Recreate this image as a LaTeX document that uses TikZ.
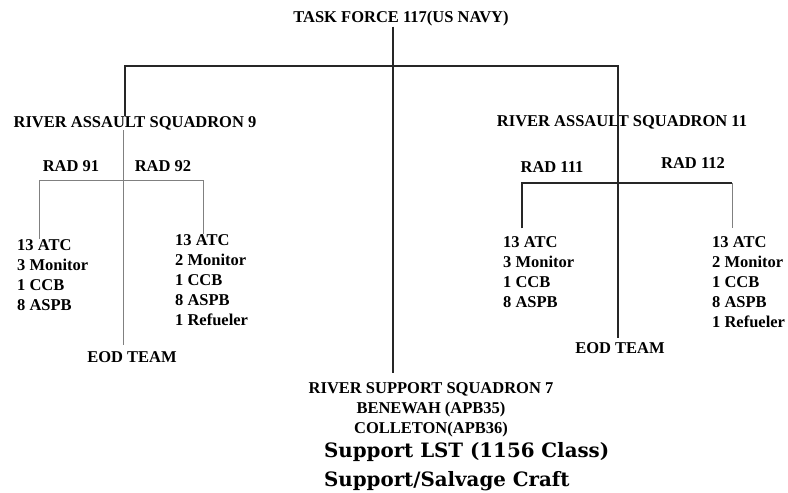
\documentclass[tikz,border=0pt]{standalone}
\usepackage{fontspec}
\setmainfont{Liberation Serif}
\newfontfamily\wideserif{DejaVu Serif}
\begin{document}
\begin{tikzpicture}[
                x=1pt, y=-1pt,
                lbl/.style={font=\fontsize{16.5}{20}\selectfont\bfseries, inner sep=0pt},
                boats/.style={lbl, align=left, anchor=west},
                tie/.style={line width=1.3pt, black!85},
                faint/.style={line width=1pt, black!50}]
            \useasboundingbox (0,0) rectangle (788,493);
            \node[lbl] (tf) at (401,19) {TASK FORCE 117(US NAVY)};
            \node[lbl] (ras9) at (135,123) {RIVER ASSAULT SQUADRON 9};
            \node[lbl] (ras11) at (622,122) {RIVER ASSAULT SQUADRON 11};
            \node[lbl] (rad91) at (71,166) {RAD 91};
            \node[lbl] (rad92) at (163,166) {RAD 92};
            \node[lbl] (rad111) at (552,167) {RAD 111};
            \node[lbl] (rad112) at (693,163) {RAD 112};
            \node[boats] (boats91) at (17,275) {13 ATC\\3 Monitor\\1 CCB\\8 ASPB};
            \node[boats] (boats92) at (175,280) {13 ATC\\2 Monitor\\1 CCB\\8 ASPB\\1 Refueler};
            \node[boats] (boats111) at (503,272) {13 ATC\\3 Monitor\\1 CCB\\8 ASPB};
            \node[boats] (boats112) at (712,282) {13 ATC\\2 Monitor\\1 CCB\\8 ASPB\\1 Refueler};
            \node[lbl] (eod9) at (132,357) {EOD TEAM};
            \node[lbl] (eod11) at (620,348) {EOD TEAM};
            \node[lbl, align=center] (rss7) at (431,410) {RIVER SUPPORT SQUADRON 7\\BENEWAH (APB35)\\COLLETON(APB36)};
            \node[inner sep=0pt, align=left, anchor=west,
                font=\wideserif\fontsize{19.8}{29}\selectfont\bfseries] (craft) at (324,467)
                {Support LST (1156 Class)\\Support/Salvage Craft};
            \coordinate (hub) at (393,66);
            \coordinate (busL) at (125,66);
            \coordinate (busR) at (618,66);
            \coordinate (j91) at (39,180);
            \coordinate (j92) at (203,180);
            \coordinate (j111) at (522,183);
            \coordinate (j112) at (732,183);
            \draw[tie] (tf.south -| hub) -- ([yshift=10pt]rss7.north -| hub);
            \draw[tie] (ras9.north -| busL) -- (busL) -- (busR) -- ([yshift=4pt]eod11.north -| busR);
            \draw[faint] ([xshift=-12pt]ras9.south) -- ([xshift=-9pt,yshift=6pt]eod9.north);
            \draw[faint] (boats91.north -| j91) -- (j91) -- (j92) -- (boats92.north -| j92);
            \draw[tie] ([yshift=8pt]boats111.north -| j111) -- (j111) -- (j112);
            \draw[faint] (j112) -- ([yshift=8pt]boats112.north -| j112);
        \end{tikzpicture}
\end{document}
